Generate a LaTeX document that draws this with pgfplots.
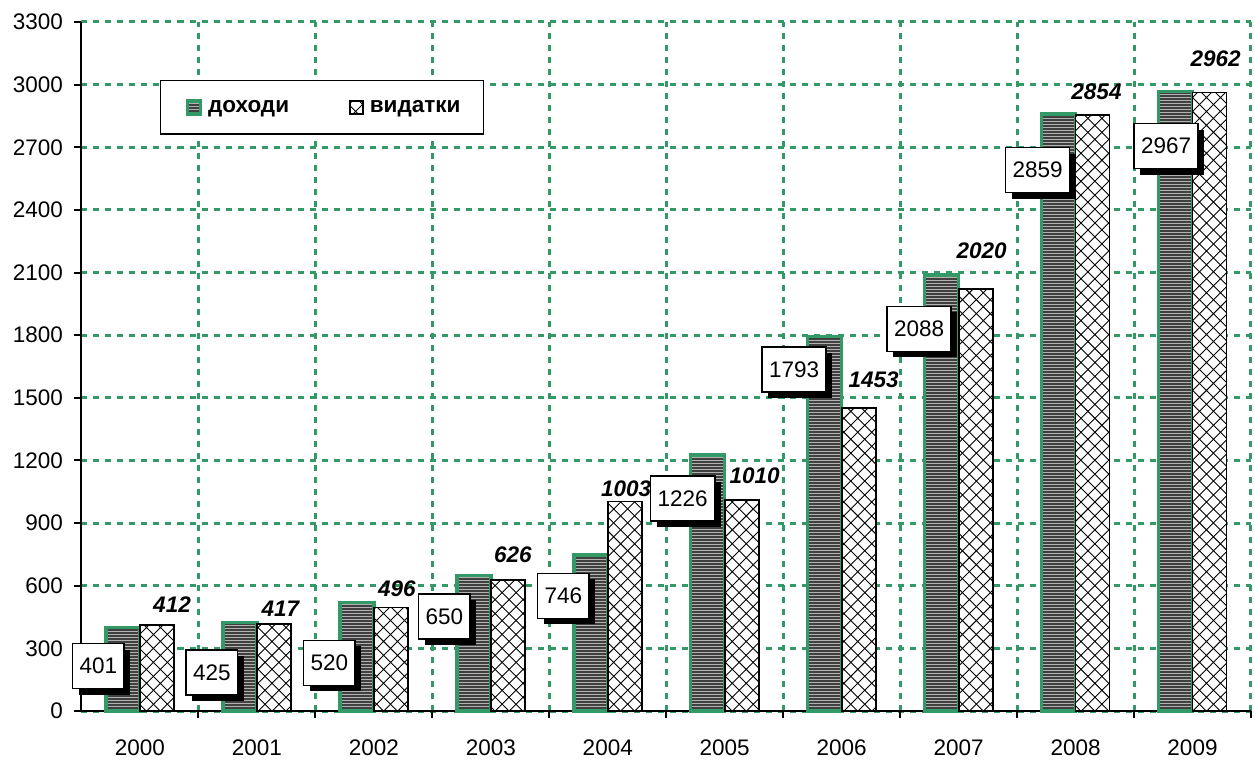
\documentclass[border=0pt]{standalone}
\usepackage{fontspec}
\setmainfont{Liberation Sans}
\usepackage{pgfplots}
\pgfplotsset{compat=1.18}
\usetikzlibrary{patterns,shadows}
\definecolor{sgreen}{HTML}{339966}
\pgfdeclarepatternformonly{bigcross}{\pgfqpoint{-1pt}{-1pt}}{\pgfqpoint{15pt}{15pt}}{\pgfqpoint{14pt}{14pt}}{%
  \pgfsetlinewidth{0.9pt}%
  \pgfpathmoveto{\pgfqpoint{0pt}{0pt}}\pgfpathlineto{\pgfqpoint{14.1pt}{14.1pt}}%
  \pgfpathmoveto{\pgfqpoint{0pt}{14pt}}\pgfpathlineto{\pgfqpoint{14pt}{0pt}}%
  \pgfusepath{stroke}}
\pgfdeclarepatternformonly{hstripes}{\pgfqpoint{-1pt}{0pt}}{\pgfqpoint{5pt}{3.01125pt}}{\pgfqpoint{4.015pt}{3.01125pt}}{%
  \pgfsetlinewidth{1.5056pt}%
  \pgfpathmoveto{\pgfqpoint{-1pt}{0.7528pt}}\pgfpathlineto{\pgfqpoint{5pt}{0.7528pt}}%
  \pgfusepath{stroke}}
\tikzset{
  boxlbl/.style={draw=black, line width=1.5bp, fill=white, inner xsep=7bp, inner ysep=0bp,
    minimum height=45bp, font=\fontsize{22.5bp}{26bp}\selectfont,
    drop shadow={shadow xshift=6bp, shadow yshift=-6bp, fill=black, opacity=1, draw=none}},
  vlbl/.style={font=\bfseries\itshape\fontsize{22.5bp}{26bp}\selectfont, inner sep=0pt}
}
\pgfplotsset{sqlegend/.style={legend image code/.code={\draw[##1] (4bp,-6.5bp) rectangle (17bp,6.5bp); \path (0bp,0bp) (21bp,0bp);}}}
\begin{document}
\begin{tikzpicture}
\useasboundingbox (-81.5bp,-49bp) rectangle (1172.5bp,711bp);
\begin{axis}[
  at={(0,0)}, anchor=south west,
  scale only axis, width=1169.5bp, height=689bp,
  xmin=-0.5, xmax=9.5, ymin=0, ymax=3300,
  ytick={0,300,...,3300},
  xtick={0.5,1.5,...,9.5}, xticklabels={},
  extra x ticks={0,1,2,3,4,5,6,7,8,9},
  extra x tick labels={2000,2001,2002,2003,2004,2005,2006,2007,2008,2009},
  extra x tick style={grid=none, major tick length=0pt, tick label style={yshift=-25bp}},
  yticklabel style={xshift=-8bp},
  axis x line*=bottom, axis y line*=left,
  axis line style={line width=2bp, black},
  tick style={line width=2bp, black},
  tick align=outside, major tick length=7bp,
  grid=major,
  major grid style={sgreen, line width=3bp, dash pattern=on 6bp off 6bp},
  tick label style={font=\fontsize{22.5bp}{26bp}\selectfont},
  /pgf/number format/assume math mode=true,
  /pgf/number format/1000 sep={},
  ybar=0pt, bar width=34bp,
  clip=false,
  legend style={at={(0.067,0.916)}, anchor=north west, draw=black, line width=1.5bp,
    font=\bfseries\fontsize{22.5bp}{26bp}\selectfont, inner xsep=21bp, inner ysep=18bp,
    /tikz/every even column/.append style={column sep=54bp}},
  legend columns=2,
  legend cell align=left,
]
\addplot[draw=sgreen, line width=3.5bp, fill=black!30,
  postaction={pattern=hstripes, pattern color=black!75},
  sqlegend]
  coordinates {(0,401) (1,425) (2,520) (3,650) (4,746) (5,1226) (6,1793) (7,2088) (8,2859) (9,2967)};
\addlegendentry{доходи}
\addplot[draw=black, line width=1.8bp, fill=white,
  postaction={pattern=bigcross, pattern color=black}, sqlegend]
  coordinates {(0,412) (1,417) (2,496) (3,626) (4,1003) (5,1010) (6,1453) (7,2020) (8,2854) (9,2962)};
\addlegendentry{видатки}

\node[boxlbl] at (axis cs:-0.355,215) {401};
\node[boxlbl] at (axis cs:0.615,184) {425};
\node[boxlbl] at (axis cs:1.620,230) {520};
\node[boxlbl] at (axis cs:2.603,453) {650};
\node[boxlbl] at (axis cs:3.620,551) {746};
\node[boxlbl] at (axis cs:4.641,1018) {1226};
\node[boxlbl] at (axis cs:5.594,1636) {1793};
\node[boxlbl] at (axis cs:6.662,1830) {2088};
\node[boxlbl] at (axis cs:7.675,2591) {2859};
\node[boxlbl] at (axis cs:8.774,2706) {2967};

\node[vlbl] at (axis cs:0.274,510) {412};
\node[vlbl] at (axis cs:1.201,489) {417};
\node[vlbl] at (axis cs:2.197,584) {496};
\node[vlbl] at (axis cs:3.188,747) {626};
\node[vlbl] at (axis cs:4.158,1063) {1003};
\node[vlbl] at (axis cs:5.256,1126) {1010};
\node[vlbl] at (axis cs:6.274,1585) {1453};
\node[vlbl] at (axis cs:7.197,2206) {2020};
\node[vlbl] at (axis cs:8.179,2965) {2854};
\node[vlbl] at (axis cs:9.197,3123) {2962};
\end{axis}
\end{tikzpicture}
\end{document}
